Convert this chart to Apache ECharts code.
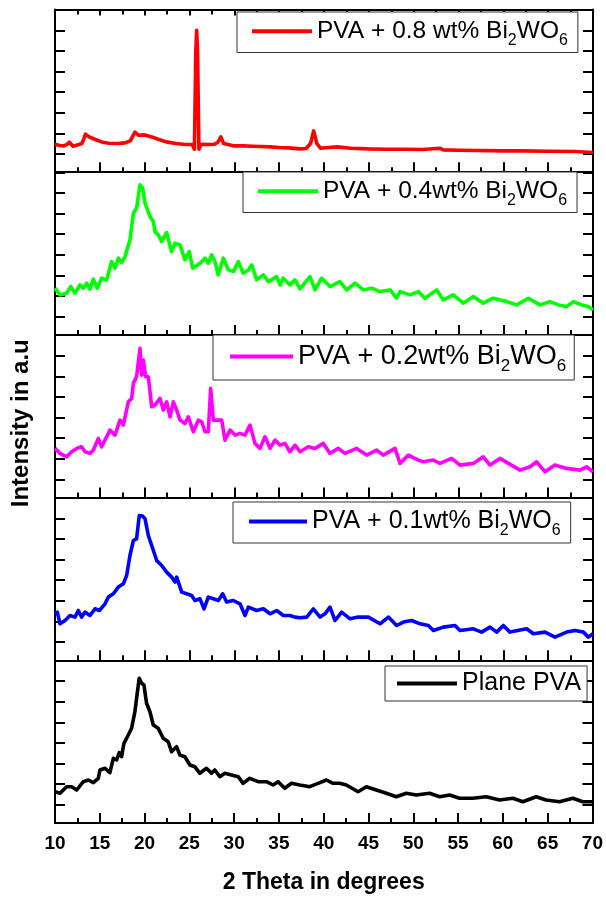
<!DOCTYPE html>
<html><head><meta charset="utf-8">
<script src="https://cdn.jsdelivr.net/npm/echarts@6/dist/echarts.min.js"></script>
<style>html,body{margin:0;padding:0;background:#fff}#c{width:606px;height:900px}</style>
</head><body><div id="c"></div>
<script>
// ---- data ----
const xTickLabels = ['10','15','20','25','30','35','40','45','50','55','60','65','70'];
const yTickValues = [18.3, 38.9, 59.5, 80.1, 100.7, 121.3, 141.9, 162.5];
const seriesNames = ['PVA + 0.8 wt% Bi2WO6','PVA + 0.4wt% Bi2WO6','PVA + 0.2wt% Bi2WO6','PVA + 0.1wt% Bi2WO6','Plane PVA'];
const seriesColors = ['#ff0000','#00ff00','#ff00ff','#0000ff','#000000'];

const red08 = [[10,28],[10.5,26.7],[11,26.3],[11.3,27.5],[11.6,30],[12,26],[12.5,27.3],[13,28.7],[13.2,33],[13.4,38],[13.8,35.3],[14.5,32.7],[15.2,30.3],[16,29],[17,28.7],[17.8,29.3],[18.4,31.3],[18.9,40],[19.3,37],[20,37.3],[20.8,35.3],[21.5,33],[22.4,30.3],[23.5,28.7],[24.5,27.7],[25.3,27.7],[25.55,23],[25.7,120],[25.8,142],[25.9,120],[26.05,23],[26.3,28],[27,27.7],[27.8,28],[28.2,30.3],[28.5,35.3],[28.8,28.7],[29.3,27.7],[30,26.3],[31,26.3],[32,26],[33,25.7],[34,25.3],[35,24.7],[36,24.3],[37.3,23.3],[38,23.7],[38.5,28.7],[38.85,41.3],[39.2,28.7],[39.6,24],[40.5,24.7],[41.5,25.3],[43,24],[45,23.3],[47,23],[49,23],[51,22.7],[52.9,24],[53.3,22.3],[55,22],[57,21.7],[60,21.3],[62,21.3],[65,21],[68,20.7],[70,19.7]];

const green04 = [[10,46.7],[10.56,40],[11.3,41.7],[11.75,48.3],[12.23,41.7],[12.79,50],[13.16,46.7],[13.53,51.7],[13.9,45.7],[14.28,55.7],[14.72,46.7],[15.2,56.7],[15.76,55],[16.32,73.3],[16.69,66.7],[17.06,76.7],[17.43,72.3],[17.81,78.3],[18.36,95],[18.74,121.7],[19.1,126.7],[19.48,150],[19.78,146.7],[20.04,131.7],[20.22,133.3],[20.6,118.3],[20.97,113.3],[21.15,103.3],[21.52,100],[21.9,93.3],[22.45,102.3],[23,83.3],[23.38,91.7],[23.94,90],[24.5,75],[24.98,83.3],[25.35,66.7],[26.17,71.7],[26.73,76.7],[27.1,71.7],[27.47,80],[27.84,73.3],[28.2,60],[28.77,76.7],[29.33,65],[29.9,63.3],[30.45,73.3],[31,61.7],[31.56,65],[31.93,70],[32.49,55],[33.23,60],[33.8,53.3],[34.72,58.3],[35.1,50],[35.46,56.7],[36.2,50],[36.77,55],[37.32,46],[38.44,58.3],[39,45],[39.74,56.7],[40.67,48.3],[41.78,53.3],[42.53,45],[43.46,51.7],[44.39,45],[45.32,46.7],[46.25,43.3],[47.36,45],[48.1,36.7],[48.48,43.3],[49.59,40],[50.52,43.3],[51.26,36.7],[52.57,45],[53.31,35],[54.42,40],[55.54,31.7],[56.65,38.3],[57.77,31.7],[58.88,36.7],[60.37,33.3],[61.49,30],[62.79,36.7],[64.09,30],[65.2,33.3],[66.13,30],[67.06,28.3],[67.81,33.3],[68.74,30],[69.48,28.3],[70,25]];

const magenta02 = [[10,49.2],[10.56,44.2],[11.3,40.8],[11.86,45.8],[12.42,49.2],[12.97,50.8],[13.35,45.8],[13.9,44.2],[14.28,47.5],[14.83,59.2],[15.2,50.8],[15.76,60.8],[16.13,67.5],[16.69,62.5],[17.25,77.5],[17.62,72.5],[18.18,95.8],[18.55,99.2],[18.74,114.2],[19.1,120.8],[19.48,149.2],[19.67,122.5],[19.85,137.5],[20.11,120.8],[20.41,120.8],[20.78,90.8],[21.15,92.5],[21.71,99.2],[22.08,87.5],[22.45,95.8],[22.83,80.8],[23.2,95.8],[23.57,87.5],[23.94,77.5],[24.5,74.2],[24.87,80.8],[25.43,65.8],[25.99,77.5],[26.36,75.8],[26.73,65.8],[27.1,65.8],[27.36,109.2],[27.66,77.5],[28.22,77.5],[28.59,77.5],[28.96,57.5],[29.52,67.5],[30.07,62.5],[30.63,64.2],[31.19,62.5],[31.75,72.5],[32.3,54.2],[32.86,49.2],[33.42,60.8],[33.98,49.2],[34.54,57.5],[35.09,52.5],[35.65,54.2],[36.2,45.8],[36.77,52.5],[37.32,45.8],[38.25,50.8],[39,49.2],[39.93,54.2],[40.67,44.2],[41.6,49.2],[42.34,44.2],[43.64,49.2],[44.76,42.5],[45.87,47.5],[46.62,42.5],[47.92,49.2],[48.48,34.2],[49.41,42.5],[50.52,37.5],[51.08,35.8],[52.2,37.5],[52.94,34.2],[54.24,39.2],[55.17,32.5],[56.65,34.2],[57.77,40.8],[58.51,32.5],[59.63,39.2],[60.56,34.2],[61.86,27.5],[62.98,30.8],[63.72,35.8],[64.65,25.8],[65.76,32.5],[67.06,29.2],[68.55,27.5],[69.29,30.8],[70,25.8]];

const blue01 = [[10,46.5],[10.26,48.2],[10.56,36.5],[11.12,39.8],[11.67,44.8],[12.23,43.2],[12.6,49.8],[12.97,43.2],[13.35,48.2],[13.9,44.8],[14.46,51.5],[14.95,49.8],[15.58,56.5],[15.95,63.2],[16.51,66.5],[17.06,73.2],[17.62,76.5],[17.99,84.8],[18.36,104.8],[18.74,119.8],[19.1,121.5],[19.4,144.8],[19.78,144.2],[20.04,141.5],[20.41,124.8],[20.97,109.8],[21.34,99.8],[21.9,94.8],[22.45,88.2],[23.01,83.2],[23.38,78.2],[23.57,83.2],[24.13,68.2],[24.68,66.5],[25.24,64.8],[25.61,59.8],[26.17,61.5],[26.62,51.5],[27.1,63.2],[27.66,61.5],[28.22,59.8],[28.7,66.5],[29.14,58.2],[29.89,59.8],[30.63,56.5],[31.19,44.8],[31.56,53.2],[32.49,49.8],[33.23,51.5],[33.98,46.5],[34.72,49.8],[35.46,44.8],[36.2,44.8],[36.77,43.2],[37.32,42.5],[38.07,43.2],[38.81,51.5],[39.56,43.2],[40.11,46.5],[40.67,53.2],[41.23,39.8],[41.97,48.2],[42.9,41.5],[43.83,43.2],[44.95,43.2],[46.25,36.5],[47.18,43.2],[48.1,34.8],[48.85,38.2],[49.78,39.8],[50.71,36.5],[51.64,34.8],[52.2,29.8],[53.31,33.2],[54.61,34.8],[55.17,29.8],[56.65,31.5],[57.58,28.2],[58.51,33.2],[59.26,28.2],[60,34.8],[60.74,28.2],[62.6,31.5],[63.35,26.5],[64.65,28.2],[65.76,23.2],[67.06,28.2],[67.99,29.8],[68.92,28.2],[69.48,23.2],[70,26.5]];

const plainPVA = [[10,31.3],[10.56,29.7],[11.3,36.3],[11.86,36.3],[12.42,33],[13.16,41.3],[13.72,43],[14.28,40.3],[14.83,44.7],[15.02,53],[15.58,54.7],[16.13,50.3],[16.51,64.7],[16.88,63],[17.17,70.3],[17.43,66.3],[17.7,79.7],[18.18,88],[18.55,94.7],[18.92,111.3],[19.18,129.7],[19.4,144.7],[19.67,139.7],[19.93,138],[20.22,119.7],[20.6,111.3],[20.97,98],[21.52,94.7],[22.08,84.7],[22.64,81.3],[23.01,71.3],[23.57,76.3],[23.94,68],[24.5,66.3],[25.06,58],[25.61,56.3],[26.17,49.7],[26.91,54.7],[27.47,49.7],[27.84,53],[28.4,46.3],[28.96,49.7],[29.7,48],[30.45,46.3],[31,39.7],[31.75,44.7],[32.68,41.3],[33.6,41.3],[34.35,38],[34.91,41.3],[35.65,34.7],[36.4,39.7],[37.32,38],[38.44,36.3],[39.37,39.7],[40.3,43],[41.04,39.7],[41.78,39.7],[42.53,38],[43.83,31.3],[44.76,36.3],[45.87,33],[46.99,29.7],[48.1,26.3],[49.22,29.7],[50.33,28],[51.82,29.7],[52.94,26.3],[54.05,28],[55.17,24.7],[56.65,24.7],[58.14,26.3],[59.63,23],[61.12,24.7],[62.23,21.3],[63.72,26.3],[64.83,23],[66.32,21.3],[67.81,24.7],[68.92,21.3],[70,21.3]];

const panelData = [red08, green04, magenta02, blue01, plainPVA];

// ---- layout / style ----
const FONT = '"Liberation Sans", Arial, sans-serif';
const GRID_LEFT = 55, GRID_W = 538, GRID_TOP = 9.5, GRID_H = 162.7;
const legendPos = [
  {left:237, top:12, fs:24.5, pad:[4,10,4,15], iw:60},
  {left:243, top:172, fs:24.5, pad:[4,10,4,15], iw:60},
  {left:213, top:335, fs:27, pad:[5,8,5,17], iw:63},
  {left:233, top:502, fs:25, pad:[4,10,4,16], iw:58},
  {left:385, top:666, fs:25, pad:[2,6,2,12], iw:60}
];

function fmt(name){ return name.replace('Bi2WO6','Bi{s|2}WO{s|6}'); }

const grids=[], xAxes=[], yAxes=[], series=[], legends=[];
for (let i=0;i<5;i++){
  const last = i===4;
  grids.push({left:GRID_LEFT, width:GRID_W, top:GRID_TOP+i*GRID_H, height:GRID_H});
  xAxes.push({
    type:'value', gridIndex:i, position:'bottom', min:10, max:70, interval:5,
    axisLine:{show:true, onZero:false, lineStyle:{color:'#000', width:2}},
    axisTick:{show:true, inside:true, length:10, lineStyle:{color:'#000', width:2}},
    minorTick:{show:true, splitNumber:2, length:5, lineStyle:{color:'#000', width:2}},
    splitLine:{show:false},
    axisLabel:{show:last, color:'#000', fontFamily:FONT, fontSize:19, fontWeight:'bold', margin:11,
      formatter:(v)=>xTickLabels[Math.round((v-10)/5)] ?? ''},
    name: last ? '2 Theta in degrees' : '',
    nameLocation:'middle', nameGap:48,
    nameTextStyle:{color:'#000', fontFamily:FONT, fontSize:23, fontWeight:'bold'}
  });
  xAxes.push({
    type:'value', gridIndex:i, position:'top', min:10, max:70, interval:5,
    axisLine:{show:true, onZero:false, lineStyle:{color:'#000', width:2}},
    axisTick:{show:i===0, inside:true, length:6, lineStyle:{color:'#000', width:2}},
    minorTick:{show:i===0, splitNumber:2, length:5, lineStyle:{color:'#000', width:2}},
    splitLine:{show:false}, axisLabel:{show:false}
  });
  yAxes.push({
    type:'value', gridIndex:i, position:'left', min:0, max:GRID_H,
    axisLine:{show:true, onZero:false, lineStyle:{color:'#000', width:2}},
    axisTick:{show:true, inside:true, length:10, customValues:yTickValues, lineStyle:{color:'#000', width:2}},
    splitLine:{show:false}, axisLabel:{show:false},
    name: i===2 ? 'Intensity in a.u' : '',
    nameLocation:'middle', nameGap:22,
    nameTextStyle:{color:'#000', fontFamily:FONT, fontSize:24, fontWeight:'bold', padding:[0,0,0,-14]}
  });
  yAxes.push({
    type:'value', gridIndex:i, position:'right', min:0, max:GRID_H,
    axisLine:{show:true, onZero:false, lineStyle:{color:'#000', width:2}},
    axisTick:{show:true, inside:true, length:10, customValues:yTickValues, lineStyle:{color:'#000', width:2}},
    splitLine:{show:false}, axisLabel:{show:false}
  });
  series.push({
    name:seriesNames[i], type:'line', xAxisIndex:i*2, yAxisIndex:i*2,
    data:panelData[i], symbol:'none', showSymbol:false, smooth:false, animation:false,
    lineStyle:{color:seriesColors[i], width:3.6, join:'round'}, itemStyle:{color:seriesColors[i]}, z:3
  });
  const lp = legendPos[i];
  legends.push({
    data:[{name:seriesNames[i], icon:'rect'}], left:lp.left, top:lp.top, padding:lp.pad,
    itemWidth:lp.iw, itemHeight:4, selectedMode:false,
    borderColor:'#333', borderWidth:1, backgroundColor:'#fff',
    formatter:fmt,
    itemStyle:{color:seriesColors[i], borderWidth:0},
    textStyle:{color:'#000', fontFamily:FONT, fontSize:lp.fs, lineHeight:lp.fs+6,
      rich:{s:{color:'#000', fontFamily:FONT, fontSize:Math.round(lp.fs*0.64), lineHeight:12, verticalAlign:'bottom', padding:[0,0,-2,0]}}}
  });
}

const chart = echarts.init(document.getElementById('c'), null, {renderer:'canvas'});
chart.setOption({
  backgroundColor:'#fff', animation:false,
  grid:grids, xAxis:xAxes, yAxis:yAxes, series:series, legend:legends
});
</script></body></html>
